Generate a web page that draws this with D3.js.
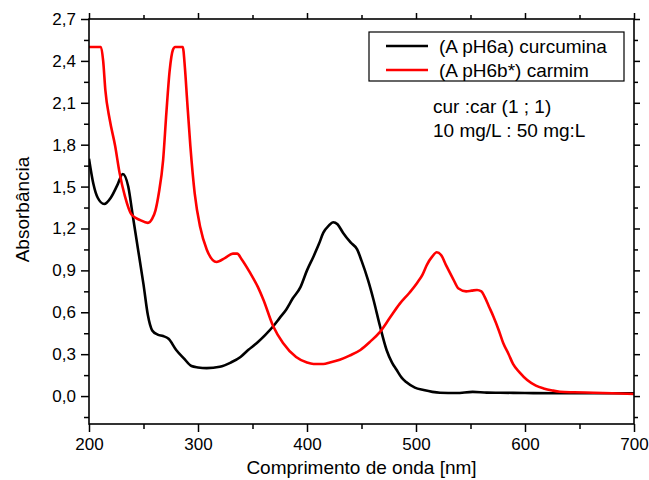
<!DOCTYPE html>
<html><head><meta charset="utf-8">
<script src="https://cdn.jsdelivr.net/npm/d3@7"></script>
<style>body{margin:0;background:#fff}svg{display:block}text{font-family:"Liberation Sans",Arial,sans-serif;fill:#000}</style>
</head><body><svg id="c" width="649" height="480"></svg>
<script>
const curWl = [200,204,208,214,220,226,231,236,240,245,250,254,258,263,268,273,280,287,294,300,308,320,330,339,346,354,362,369,375,381,387,394,400,406,411,415,420,424,428,433,440,446,450,456,461,467,473,478,482,487,491,499,507,515,522,537,552,565,577,600,630,660,700];
const curAbs = [1.70,1.52,1.42,1.375,1.42,1.51,1.59,1.50,1.30,1.05,0.80,0.58,0.47,0.44,0.43,0.41,0.33,0.27,0.215,0.205,0.20,0.21,0.24,0.28,0.33,0.38,0.44,0.50,0.56,0.62,0.70,0.78,0.90,1.00,1.09,1.17,1.22,1.245,1.23,1.17,1.10,1.05,0.97,0.83,0.69,0.50,0.33,0.24,0.19,0.13,0.10,0.06,0.043,0.03,0.024,0.022,0.03,0.025,0.024,0.022,0.02,0.02,0.02];
const carWl = [200,211,213,215,219,224,228,233,239,247,254,258,261,264,268,271,274,277,279,286,288,290,293,297,302,308,317,325,332,336,340,348,355,360,369,378,390,400,406,415,421,430,439,449,458,467,476,485,494,501,506,510,515,519,523,528,534,539,546,551,556,560,563,567,571,576,580,585,589,595,602,610,617,625,632,645,663,680,700];
const carAbs = [2.50,2.50,2.40,2.19,1.98,1.79,1.60,1.43,1.30,1.26,1.24,1.27,1.33,1.45,1.69,2.03,2.33,2.48,2.50,2.50,2.35,2.12,1.79,1.45,1.21,1.05,0.96,0.99,1.02,1.02,0.98,0.88,0.78,0.69,0.50,0.38,0.28,0.24,0.23,0.23,0.24,0.26,0.29,0.33,0.39,0.46,0.56,0.66,0.74,0.81,0.87,0.94,1.00,1.03,1.01,0.93,0.84,0.77,0.75,0.755,0.76,0.75,0.71,0.64,0.57,0.47,0.38,0.30,0.23,0.17,0.115,0.075,0.055,0.04,0.031,0.027,0.024,0.02,0.015];
const seriesNames = ["(A pH6a) curcumina","(A pH6b*) carmim"];
const seriesColors = ["#000000","#ff0000"];
const xTicks = [200,300,400,500,600,700];
const xMinor = [250,350,450,550,650];
const yTicks = [0,0.3,0.6,0.9,1.2,1.5,1.8,2.1,2.4,2.7];
const yMinor = [-0.15,0.15,0.45,0.75,1.05,1.35,1.65,1.95,2.25,2.55];
const noteLines = ["cur :car (1 ; 1)","10 mg/L : 50 mg:L"];
const xTitle = "Comprimento de onda [nm]";
const yTitle = "Absorbância";

(function(){
const svg = d3.select("#c");
const L=89, R=634, T=19, B=424;
const x = d3.scaleLinear().domain([200,700]).range([L,R]);
const y = d3.scaleLinear().domain([-0.2,2.7]).range([B,T]);
const fmt = v => d3.format(".1f")(v).replace(".",",");

const line = d3.line().x(d=>x(d[0])).y(d=>y(d[1])).curve(d3.curveMonotoneX);
const series = [d3.zip(curWl,curAbs), d3.zip(carWl,carAbs)];
svg.append("clipPath").attr("id","pc").append("rect").attr("x",L).attr("y",T).attr("width",R-L).attr("height",B-T);
series.forEach((s,i)=>{
  svg.append("path").attr("d",line(s)).attr("fill","none").attr("stroke",seriesColors[i])
    .attr("stroke-width",2.6).attr("stroke-linejoin","round").attr("clip-path","url(#pc)");
});

function ax(g, axis){ g.call(axis); g.select(".domain").remove(); g.selectAll("line").attr("stroke","#000").attr("stroke-width",1.5); return g; }
const bot = ax(svg.append("g").attr("transform",`translate(0,${B})`), d3.axisBottom(x).tickValues(xTicks).tickSize(8).tickPadding(6).tickFormat(d3.format("d")));
bot.selectAll("text").attr("font-size",17).attr("font-family","Liberation Sans, Arial");
ax(svg.append("g").attr("transform",`translate(0,${B})`), d3.axisBottom(x).tickValues(xMinor).tickSize(5).tickFormat(""));
ax(svg.append("g").attr("transform",`translate(0,${T})`), d3.axisTop(x).tickValues(xTicks).tickSize(6).tickFormat(""));
ax(svg.append("g").attr("transform",`translate(0,${T})`), d3.axisTop(x).tickValues(xMinor).tickSize(4).tickFormat(""));
const lef = ax(svg.append("g").attr("transform",`translate(${L},0)`), d3.axisLeft(y).tickValues(yTicks).tickSize(8).tickPadding(5).tickFormat(fmt));
lef.selectAll("text").attr("font-size",17).attr("font-family","Liberation Sans, Arial");
ax(svg.append("g").attr("transform",`translate(${L},0)`), d3.axisLeft(y).tickValues(yMinor).tickSize(5).tickFormat(""));
ax(svg.append("g").attr("transform",`translate(${R},0)`), d3.axisRight(y).tickValues(yTicks).tickSize(6).tickFormat(""));
ax(svg.append("g").attr("transform",`translate(${R},0)`), d3.axisRight(y).tickValues(yMinor).tickSize(4).tickFormat(""));
svg.append("rect").attr("x",L).attr("y",T).attr("width",R-L).attr("height",B-T).attr("fill","none").attr("stroke","#000").attr("stroke-width",1.6);

svg.append("text").attr("x",(L+R)/2).attr("y",474).attr("text-anchor","middle").attr("font-size",19).text(xTitle);
svg.append("text").attr("transform",`translate(29,${(T+B)/2-12}) rotate(-90)`).attr("text-anchor","middle").attr("font-size",19).text(yTitle);

svg.append("rect").attr("x",369).attr("y",32).attr("width",255).attr("height",49).attr("fill","#fff").attr("stroke","#000").attr("stroke-width",1.2);
seriesNames.forEach((n,i)=>{
  const cy = 46 + i*24;
  svg.append("line").attr("x1",386).attr("x2",428).attr("y1",cy).attr("y2",cy).attr("stroke",seriesColors[i]).attr("stroke-width",2.6);
  svg.append("text").attr("x",439).attr("y",cy+6.5).attr("font-size",19).text(n);
});
noteLines.forEach((t,i)=>{
  svg.append("text").attr("x",433).attr("y",113+i*24).attr("font-size",19).text(t);
});
})();
</script></body></html>
